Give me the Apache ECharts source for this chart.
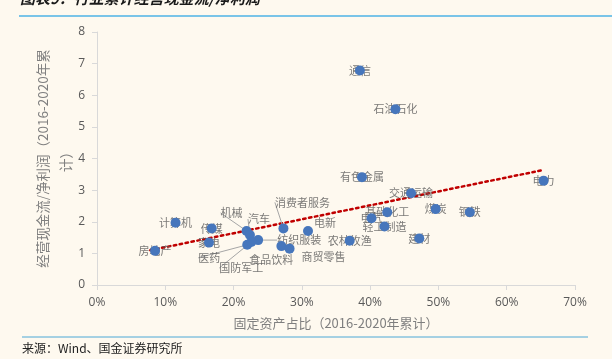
<!DOCTYPE html>
<html>
<head>
<meta charset="utf-8">
<script src="https://cdn.jsdelivr.net/npm/echarts@6/dist/echarts.min.js"></script>
<style>
html,body{margin:0;padding:0;background:#FEF9EF;}
#c{width:612px;height:359px;}
</style>
</head>
<body>
<div id="c"></div>
<script>
// ---- data ----
const industries = ['通信','石油石化','有色金属','交通运输','电力','煤炭','钢铁','基础化工','电气','轻工制造','建材','农林牧渔','电新','消费者服务','食品饮料','商贸零售','机械','汽车','纺织服装','医药','国防军工','计算机','传媒','家电','房地产'];
const fixedAssetShare = [38.5,43.7,38.8,46.0,65.4,49.6,54.6,42.5,40.2,42.1,47.2,37.0,30.9,27.3,27.0,28.2,21.9,22.4,23.6,22.0,22.6,11.5,16.8,16.4,8.5];
const cashToProfit = [6.78,5.56,3.41,2.90,3.30,2.40,2.30,2.30,2.11,1.85,1.47,1.40,1.71,1.79,1.23,1.15,1.71,1.58,1.42,1.27,1.36,1.97,1.79,1.34,1.08];
const trendX = [7.8,65.0];
const trendY = [1.10,3.62];
const xTicks = [0,10,20,30,40,50,60,70];
const yTicks = [0,1,2,3,4,5,6,7,8];

// ---- label placement (style only) ----
const labelShift = {
  '电新':[17,-8], '消费者服务':[19,-26], '食品饮料':[-10,14], '商贸零售':[34,8],
  '机械':[-15,-18], '汽车':[9,-16], '纺织服装':[41,0], '医药':[-38,13], '国防军工':[-10,26]
};
const withLine = ['消费者服务','机械','汽车','纺织服装','医药','国防军工'];

const pts = industries.map((n,i)=>[fixedAssetShare[i], cashToProfit[i], n]);
const labelPts = industries.map((n,i)=>({
  value:[fixedAssetShare[i], cashToProfit[i], n],
  labelLine:{show: withLine.indexOf(n)>=0}
}));

const chart = echarts.init(document.getElementById('c'), null, {renderer:'canvas'});
const cjk = '"Noto Sans CJK SC", sans-serif';
chart.setOption({
  backgroundColor:'#FEF9EF',
  animation:false,
  grid:{left:97, right:37, top:32, bottom:74},
  xAxis:{
    type:'value', min:xTicks[0], max:xTicks[xTicks.length-1], interval:10,
    axisLine:{show:true, lineStyle:{color:'#D9D9D9', width:1}},
    axisTick:{show:true, length:5, lineStyle:{color:'#D9D9D9'}},
    splitLine:{show:false},
    axisLabel:{formatter:'{value}%', color:'#595959', fontSize:12, fontFamily:'"Open Sans", sans-serif', margin:12},
    name:'固定资产占比（2016-2020年累计）', nameLocation:'middle', nameGap:32, nameMoveOverlap:false,
    nameTextStyle:{color:'#7F7F7F', fontSize:13, fontFamily:cjk}
  },
  yAxis:{
    type:'value', min:yTicks[0], max:yTicks[yTicks.length-1], interval:1,
    axisLine:{show:true, lineStyle:{color:'#D9D9D9', width:1}},
    axisTick:{show:true, length:5, lineStyle:{color:'#D9D9D9'}},
    splitLine:{show:false},
    axisLabel:{color:'#595959', fontSize:12, fontFamily:'"Open Sans", sans-serif', margin:12},
    name:'经营现金流/净利润（2016-2020年累\n计）', nameLocation:'middle', nameGap:20, nameRotate:90, nameMoveOverlap:false,
    nameTextStyle:{color:'#7F7F7F', fontSize:13.5, lineHeight:23, fontFamily:cjk}
  },
  series:[
    {
      type:'line', data:trendX.map((x,i)=>[x,trendY[i]]), symbol:'none', z:1,
      lineStyle:{color:'#C00000', width:2.5, type:[2.5,3.5], cap:'round'}
    },
    {
      type:'scatter', data:labelPts, symbolSize:0, z:2,
      label:{show:true, position:'inside', formatter:p=>p.value[2], color:'#595959', fontSize:11, fontFamily:cjk},
      labelLine:{show:false, lineStyle:{color:'#A6A6A6', width:1}},
      labelLayout:function(p){
        const s = labelShift[industries[p.dataIndex]];
        return s ? {dx:s[0], dy:s[1]} : {};
      }
    },
    {
      type:'scatter', data:pts, symbolSize:10, z:3,
      itemStyle:{color:'#4676BC', opacity:1}
    }
  ],
  graphic:[
    {type:'text', left:20, top:-9, style:{text:'图表9：行业累计经营现金流/净利润', font:'italic bold 15px "Noto Sans CJK SC"', fill:'#1A1A1A'}},
    {type:'line', shape:{x1:19,y1:16,x2:612,y2:16}, style:{stroke:'#4DB2E6', lineWidth:1.5}},
    {type:'line', shape:{x1:22,y1:337,x2:588,y2:337}, style:{stroke:'#4DA8D6', lineWidth:1}},
    {type:'text', left:22, top:342, style:{text:'来源：Wind、国金证券研究所', font:'12px "Noto Sans CJK SC"', fill:'#222222'}}
  ]
});
</script>
</body>
</html>
